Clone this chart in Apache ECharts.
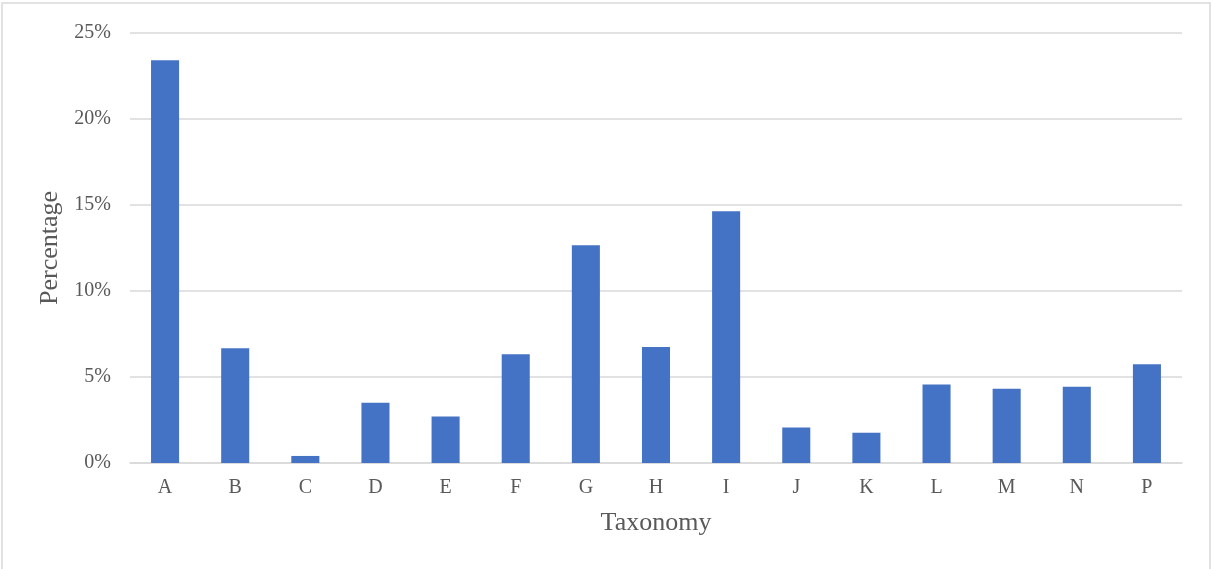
<!DOCTYPE html>
<html>
<head>
<meta charset="utf-8">
<style>
  html, body { margin: 0; padding: 0; background: #fff; }
  #chart { width: 1212px; height: 569px; }
</style>
<script src="https://cdn.jsdelivr.net/npm/echarts@6/dist/echarts.min.js"></script>
</head>
<body>
<div id="chart"></div>
<script>
// Share of records per taxonomy group (percent)
const categories = ['A', 'B', 'C', 'D', 'E', 'F', 'G', 'H', 'I', 'J', 'K', 'L', 'M', 'N', 'P'];
const percentages = [23.41, 6.67, 0.41, 3.51, 2.71, 6.32, 12.66, 6.74, 14.63, 2.07, 1.76, 4.57, 4.32, 4.44, 5.74];
const yTicks = [0, 5, 10, 15, 20, 25];

const textColor = '#595959';
const fontFamily = '"Liberation Serif", "Times New Roman", serif';

const chart = echarts.init(document.getElementById('chart'), null, { renderer: 'canvas' });

chart.setOption({
  animation: false,
  backgroundColor: '#ffffff',
  graphic: [{
    type: 'rect',
    shape: { x: 2, y: 3, width: 1208, height: 600 },
    style: { fill: 'none', stroke: '#d9d9d9', lineWidth: 1.5 },
    silent: true
  }],
  grid: { left: 130, right: 30, top: 33, bottom: 106, containLabel: false },
  xAxis: {
    type: 'category',
    data: categories,
    name: 'Taxonomy',
    nameLocation: 'middle',
    nameGap: 47,
    nameTextStyle: { color: textColor, fontFamily, fontSize: 26 },
    axisLine: { show: true, lineStyle: { color: '#d9d9d9', width: 1.5 } },
    axisTick: { show: false },
    axisLabel: { color: textColor, fontFamily, fontSize: 20, margin: 15 }
  },
  yAxis: {
    type: 'value',
    min: yTicks[0],
    max: yTicks[yTicks.length - 1],
    interval: yTicks[1] - yTicks[0],
    name: 'Percentage',
    nameLocation: 'middle',
    nameGap: 67,
    nameTextStyle: { color: textColor, fontFamily, fontSize: 26 },
    axisLine: { show: false },
    axisTick: { show: false },
    axisLabel: { color: textColor, fontFamily, fontSize: 20, margin: 19, formatter: v => v + '%' },
    splitLine: { lineStyle: { color: '#d9d9d9', width: 1.5 } }
  },
  series: [{
    type: 'bar',
    data: percentages,
    barWidth: '40%',
    itemStyle: { color: '#4472c4' }
  }]
});
</script>
</body>
</html>
